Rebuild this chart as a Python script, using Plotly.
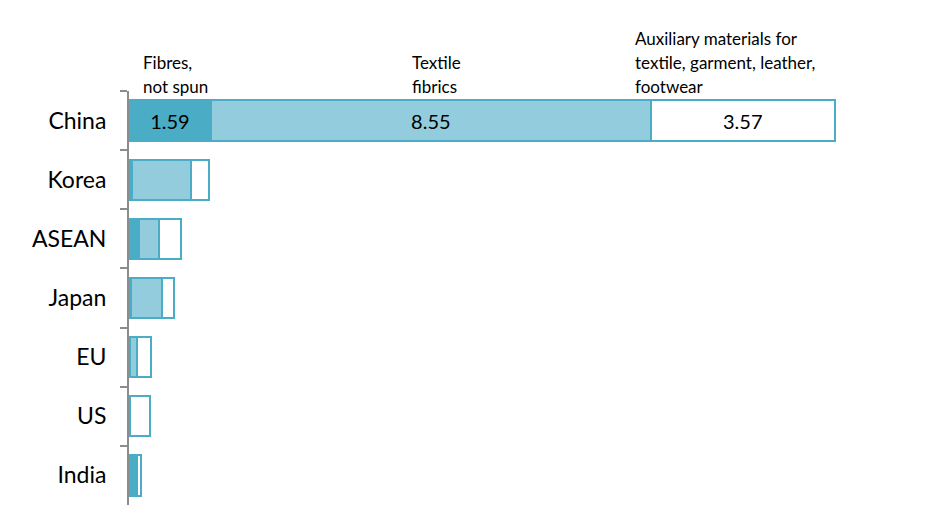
import plotly.graph_objects as go

countries = ["China", "Korea", "ASEAN", "Japan", "EU", "US", "India"]
fibres = [1.59, 0.06, 0.19, 0.03, 0.02, 0.01, 0.12]
textile = [8.55, 1.15, 0.39, 0.62, 0.14, 0.01, 0.03]
auxiliary = [3.57, 0.35, 0.43, 0.22, 0.26, 0.38, 0.09]
series_names = ["Fibres,<br>not spun", "Textile<br>fibrics",
                "Auxiliary materials for<br>textile, garment, leather,<br>footwear"]
label_country = "China"

line_c = "#4BACC6"
fills = ["#4BACC6", "#93CDDD", "#FFFFFF"]
FONT = "Lato"

fig = go.Figure()
for vals, fill, name in zip([fibres, textile, auxiliary], fills, series_names):
    txt = [f"{v:.2f}" if c == label_country else "" for c, v in zip(countries, vals)]
    fig.add_trace(go.Bar(
        y=countries, x=vals, orientation="h", name=name.replace("<br>", " "),
        marker=dict(color=fill, line=dict(color=line_c, width=2)),
        text=txt, textposition="inside", insidetextanchor="middle",
        textfont=dict(family=FONT, size=20, color="black"),
        textangle=0, cliponaxis=False,
    ))

# series labels above the first bar (x positions in data units), one line each
label_x = [0.23, 5.46, 9.79]
line_gap = 24
for lx, name in zip(label_x, series_names):
    lines = name.split("<br>")
    n = len(lines)
    for k, ln in enumerate(lines):
        fig.add_annotation(x=lx, y=1, xref="x", yref="paper",
                           text=ln, showarrow=False, xanchor="left", yanchor="middle",
                           align="left", font=dict(family=FONT, size=17, color="black"),
                           yshift=5 + (n - 1 - k) * line_gap)

fig.update_layout(
    width=942, height=524,
    margin=dict(l=121, r=49, t=83, b=27),
    barmode="stack", bargap=0.32,
    showlegend=False,
    plot_bgcolor="white", paper_bgcolor="white",
    xaxis=dict(range=[0, 15], visible=False),
    yaxis=dict(autorange="reversed", type="category",
               showline=True, linecolor="#8C8C8C", linewidth=2,
               ticks="outside", tickson="boundaries", ticklen=7,
               tickcolor="#8C8C8C", tickwidth=2, ticklabelstandoff=16,
               tickfont=dict(family=FONT, size=23, color="black"),
               showgrid=False, zeroline=False),
)

fig.write_html("out.html")
